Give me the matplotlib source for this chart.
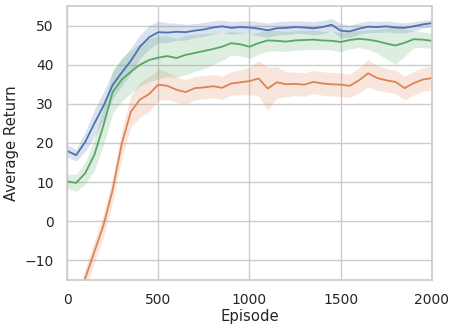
import numpy as np
import matplotlib
matplotlib.use("Agg")
import matplotlib.pyplot as plt
import seaborn as sns

# episodes on a shared grid
episodes = [0, 50, 100, 150, 200, 250, 300, 350, 400, 450, 500, 550, 600, 650,
            700, 750, 800, 850, 900, 950, 1000, 1050, 1100, 1150, 1200, 1250,
            1300, 1350, 1400, 1450, 1500, 1550, 1600, 1650, 1700, 1750, 1800,
            1850, 1900, 1950, 2000]

blue_mean = [18.0, 16.9, 20.3, 25.0, 29.5, 34.8, 38.0, 41.0, 44.6, 47.0, 48.3,
             48.2, 48.4, 48.3, 48.7, 49.0, 49.5, 49.8, 49.4, 49.6, 49.5, 49.2,
             48.8, 49.3, 49.4, 49.6, 49.5, 49.3, 49.6, 50.2, 48.7, 48.5, 49.2,
             49.7, 49.6, 49.8, 49.5, 49.4, 49.8, 50.3, 50.6]
blue_std = [1.6, 1.5, 2.5, 3.5, 3.5, 3.5, 3.5, 3.3, 3.0, 3.0, 2.8, 2.5, 2.2,
            2.0, 1.8, 1.8, 1.7, 1.6, 1.6, 1.6, 1.7, 1.8, 1.8, 1.7, 1.7, 1.6,
            1.6, 1.7, 1.7, 1.6, 1.8, 1.6, 1.5, 1.5, 1.4, 1.4, 1.4, 1.3, 1.2,
            1.0, 1.0]

green_mean = [10.2, 9.8, 12.3, 17.0, 24.5, 33.0, 36.2, 38.2, 40.0, 41.2, 41.8,
              42.2, 41.7, 42.5, 43.0, 43.5, 44.0, 44.6, 45.5, 45.2, 44.6, 45.5,
              46.2, 46.1, 45.9, 46.2, 46.3, 46.4, 46.2, 46.1, 45.8, 46.3, 46.6,
              46.4, 46.0, 45.4, 44.9, 45.6, 46.5, 46.4, 46.1]
green_std = [1.8, 2.2, 2.8, 4.0, 5.0, 5.5, 5.5, 5.5, 5.5, 5.5, 5.5, 5.2, 5.0,
             5.0, 4.8, 4.5, 4.0, 3.5, 3.0, 3.0, 3.0, 2.8, 2.8, 2.6, 2.5, 2.5,
             2.5, 2.5, 2.3, 2.3, 2.5, 2.3, 2.2, 2.5, 3.0, 4.0, 4.8, 3.5, 2.2,
             2.0, 2.0]

orange_ep = episodes[1:]
orange_mean = [-22.0, -14.5, -7.8, -1.0, 8.0, 19.8, 28.0, 31.1, 32.5, 34.9,
               34.6, 33.6, 33.0, 34.0, 34.2, 34.5, 34.1, 35.2, 35.5, 35.8, 36.5,
               33.9, 35.5, 35.0, 35.1, 34.9, 35.6, 35.2, 35.0, 34.9, 34.6, 36.0,
               37.8, 36.6, 36.0, 35.6, 34.0, 35.3, 36.2, 36.6]
orange_std = [2.5, 2.5, 2.8, 3.0, 3.2, 3.5, 4.0, 4.5, 4.5, 4.0, 3.5, 3.2, 3.2,
              3.0, 3.0, 3.0, 3.0, 3.0, 3.2, 3.5, 4.5, 5.5, 4.0, 3.2, 3.0, 3.0,
              3.0, 3.0, 3.0, 3.0, 3.0, 3.2, 3.5, 3.2, 3.0, 3.0, 3.0, 3.0, 3.0,
              3.0]

sns.set_theme(style="whitegrid")
colors = sns.color_palette("deep")

fig = plt.figure(figsize=(4.59, 3.31), dpi=100)
ax = fig.add_axes([0.146, 0.154, 0.795, 0.828])

series = [(episodes, blue_mean, blue_std, colors[0]),
          (orange_ep, orange_mean, orange_std, colors[1]),
          (episodes, green_mean, green_std, colors[2])]
for x, m, s, c in series:
    x = np.array(x)
    m = np.array(m)
    s = np.array(s)
    ax.fill_between(x, m - s, m + s, color=c, alpha=0.2, linewidth=0)
    ax.plot(x, m, color=c, linewidth=1.3)

ax.set_xlim(0, 2000)
ax.set_ylim(-15, 55)
ax.set_xticks([0, 500, 1000, 1500, 2000])
ax.set_yticks([-10, 0, 10, 20, 30, 40, 50])
ax.tick_params(labelsize=10)
ax.set_xlabel("Episode", fontsize=10.7, labelpad=1)
ax.set_ylabel("Average Return", fontsize=10.7, labelpad=4)

fig.savefig("out.png", dpi=100)
